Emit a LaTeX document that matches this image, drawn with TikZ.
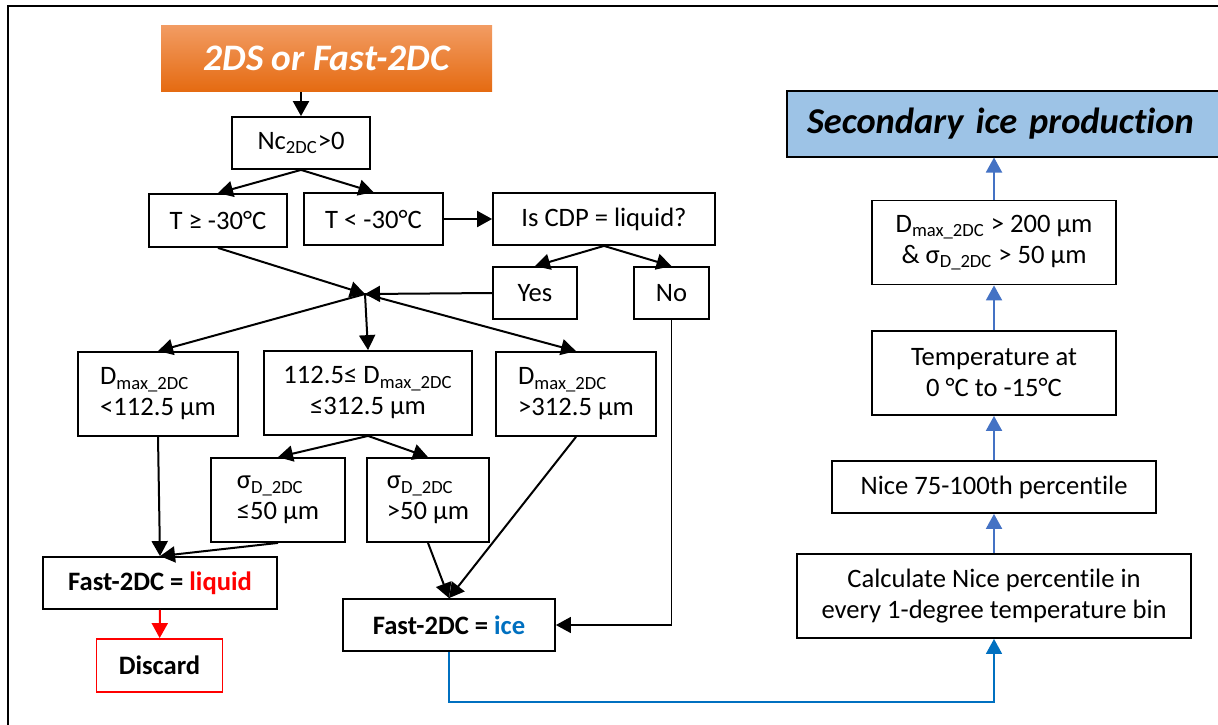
\documentclass[tikz,border=0pt]{standalone}
\usepackage{fontspec}
\setmainfont{Carlito}[Ligatures=NoCommon]
\usetikzlibrary{arrows.meta,positioning,calc}
\definecolor{srctop}{HTML}{F29C63}
\definecolor{srcbot}{HTML}{E56B12}
\definecolor{sipfill}{HTML}{9DC3E6}
\definecolor{colblue}{HTML}{4472C4}
\definecolor{iceblue}{HTML}{0070C0}
\newcommand{\sbs}[1]{\textsubscript{#1}}

\begin{document}
\begin{tikzpicture}[x=0.5pt,y=-0.5pt,
  font=\fontsize{13.3}{15.5}\selectfont, >={Triangle[length=7.5pt,width=8pt]},
  line width=1pt,
  bx/.style={draw,line width=0.9pt,inner sep=0pt,align=center,minimum height=26pt},
  tl/.style={bx,minimum height=42pt},
  tll/.style={tl,align=left},
  hd/.style={inner sep=0pt,minimum height=33pt,font=\fontsize{18.7}{22}\selectfont\bfseries\itshape},
  up/.style={->,colblue,line width=1pt}]
\clip (0,0) rectangle (1218,724);
\draw[line width=1pt] (8,760) -- (8,6) -- (1260,6);
% left part: 2DC classification
\node[hd,top color=srctop,bottom color=srcbot,text=white,minimum width=165.5pt] (src) at (326.5,58) {2DS or Fast-2DC};
\node[bx,minimum width=69pt] (nc) at (301,143) {Nc\sbs{2DC}>0};
\node[bx,minimum width=69pt,minimum height=26.5pt] (tge) at (218,220.5) {T ≥ -30°C};
\node[bx,minimum width=69.5pt] (tlt) at (373.5,219) {T < -30°C};
\node[bx,minimum width=111pt] (cdp) at (604,219) {Is CDP = liquid?};
\node[bx,minimum width=42pt] (yes) at (535,293) {Yes};
\node[bx,minimum width=37.5pt] (no) at (671.5,293) {No};
\coordinate (jn) at (365,294);
\node[tll,minimum width=80pt] (dlo) at (158,394) {D\sbs{max\_2DC}\\<112.5 µm};
\node[tl,minimum width=104pt] (dmid) at (368,393) {112.5≤ D\sbs{max\_2DC}\\≤312.5 µm};
\node[tll,minimum width=80pt] (dhi) at (576,394) {D\sbs{max\_2DC}\\>312.5 µm};
\node[tll,minimum width=67pt] (sle) at (278,500) {σ\sbs{D\_2DC}\\≤50 µm};
\node[tll,minimum width=61pt] (sgt) at (428,500) {σ\sbs{D\_2DC}\\>50 µm};
\node[bx,minimum width=117pt,font=\fontsize{13.3}{15.5}\selectfont\bfseries] (liq) at (160,583) {Fast-2DC = \textcolor{red}{liquid}};
\node[bx,draw=red,minimum width=63pt,minimum height=26.5pt,font=\fontsize{13.3}{15.5}\selectfont\bfseries] (disc) at (159.5,665.5) {Discard};
\node[bx,minimum width=106pt,font=\fontsize{13.3}{15.5}\selectfont\bfseries] (ice) at (449,625) {Fast-2DC = \textcolor{iceblue}{ice}};
\draw[->] (nc.north |- src.south) -- (nc.north);
\draw[->] (nc.south) -- (tge.north);
\draw[->] (nc.south) -- (tlt.north);
\draw[->] (tlt) -- (cdp);
\draw[->] (cdp.south) -- (yes.north);
\draw[->] (cdp.south) -- (no.north);
\draw[->] (tge.south) -- (jn);
\draw[->] (yes.west) -- (jn);
\foreach \t in {dlo,dmid,dhi} \draw[->] (jn) -- (\t.north);
\draw[->] (dmid.south) -- (sle.north);
\draw[->] (dmid.south) -- (sgt.north);
\draw[->] (dlo.south) -- (liq.north);
\draw[->] (sle.south) -- (liq.north);
\draw[->] (sgt.south) -- (ice.north);
\draw[->] (dhi.south) -- (ice.north);
\draw[->,red] (liq) -- (disc);
\draw[->,line width=0.7pt] (no.south) |- (ice.east);
% right part: secondary ice
\node[hd,draw,fill=sipfill,anchor=west,text width=210pt,inner xsep=10pt,align=left,font=\fontsize{18.2}{22}\selectfont\bfseries\itshape] (sip) at (786,123.5) {Secondary ice production};
\node[tl,minimum width=122pt] (dmax) at (994,242.5) {D\sbs{max\_2DC} > 200 µm\\\& σ\sbs{D\_2DC} > 50 µm};
\node[tl,minimum width=122pt] (temp) at (994,373) {Temperature at\\0 °C to -15°C};
\node[bx,minimum width=162pt] (nice) at (994,487) {Nice 75-100th percentile};
\node[tl,minimum width=197pt] (calc) at (994,596) {Calculate Nice percentile in\\every 1-degree temperature bin};
\coordinate (bend) at (994,702);
\draw[->,iceblue,line width=0.8pt] (ice.south) |- (bend) -- (calc.south);
\draw[up] (calc) -- (nice);
\draw[up] (nice) -- (temp);
\draw[up] (temp) -- (dmax);
\draw[up] (dmax.north) -- (dmax.north |- sip.south);
\end{tikzpicture}
\end{document}
